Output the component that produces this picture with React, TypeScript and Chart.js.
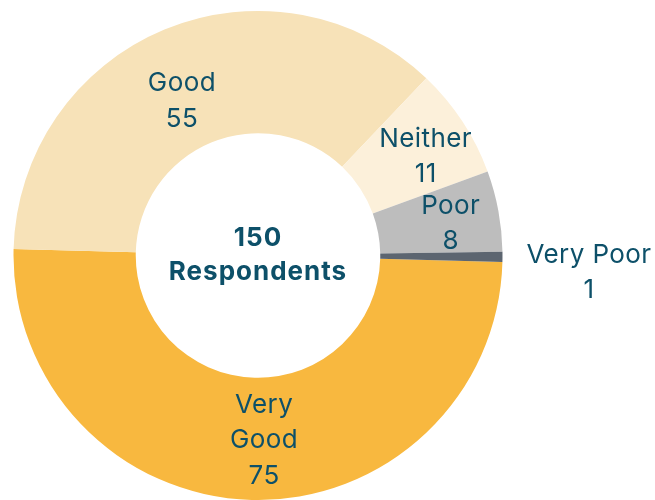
import React, { useEffect, useRef } from "react";
import { Chart, registerables } from "chart.js";

Chart.register(...registerables);

const categories = ["Very Good", "Good", "Neither", "Poor", "Very Poor"];
const labelLines = [["Very", "Good"], ["Good"], ["Neither"], ["Poor"], ["Very Poor"]];
const values = [75, 55, 11, 8, 1];
const colors = ["#F8B83F", "#F7E2B8", "#FCF0DA", "#BDBDBD", "#5C6570"];
const centerLines = ["150", "Respondents"];

const TEXT_COLOR = "#0D5069";
const FONT_FAMILY = "Inter, 'Open Sans', sans-serif";

// label placement: radial fraction of ring width (-1 = outside) and angular nudge in degrees
const labelRadial = [0.5, 0.42, 0.6, 0.6, -1];
const labelAngleShift = [-3.4, -3.5, 2.3, 0.6, 0];

const labelPlugin = {
  id: "segmentLabels",
  afterDatasetsDraw(chart: any) {
    const ctx = chart.ctx as CanvasRenderingContext2D;
    const meta = chart.getDatasetMeta(0);
    const lineH = 35.3;
    const fontSize = 26;
    const capH = fontSize * 0.727;
    ctx.save();
    ctx.fillStyle = TEXT_COLOR;
    ctx.textAlign = "center";
    ctx.textBaseline = "alphabetic";
    ctx.font = `400 ${fontSize}px ${FONT_FAMILY}`;
    (ctx as any).letterSpacing = "0.4px";
    meta.data.forEach((arc: any, i: number) => {
      const p = arc.getProps(["x", "y", "startAngle", "endAngle", "innerRadius", "outerRadius"], true);
      const mid = (p.startAngle + p.endAngle) / 2 + (labelAngleShift[i] * Math.PI) / 180;
      const lines = [...labelLines[i], String(values[i])];
      let cx: number;
      let cy: number;
      const frac = labelRadial[i];
      if (frac >= 0) {
        const r = p.innerRadius + (p.outerRadius - p.innerRadius) * frac;
        cx = p.x + Math.cos(mid) * r;
        cy = p.y + Math.sin(mid) * r;
      } else {
        const w = Math.max(...lines.map((l) => ctx.measureText(l).width));
        cx = p.x + Math.cos(mid) * p.outerRadius + 24 + w / 2;
        cy = p.y + Math.sin(mid) * p.outerRadius + 14;
      }
      const n = lines.length;
      lines.forEach((l, k) => ctx.fillText(l, cx, cy + (k - (n - 1) / 2) * lineH + capH / 2));
    });
    // center text
    const a0 = meta.data[0];
    if (a0) {
      ctx.font = `700 ${fontSize}px ${FONT_FAMILY}`;
      (ctx as any).letterSpacing = "1px";
      const cLineH = 33.7;
      const cy = a0.y - 1.8;
      const n = centerLines.length;
      centerLines.forEach((l, k) => ctx.fillText(l, a0.x, cy + (k - (n - 1) / 2) * cLineH + capH / 2));
    }
    ctx.restore();
  },
};

export default function App() {
  const ref = useRef<HTMLCanvasElement | null>(null);
  useEffect(() => {
    if (!ref.current) return;
    const chart = new Chart(ref.current, {
      type: "doughnut",
      data: {
        labels: categories,
        datasets: [
          {
            data: values,
            backgroundColor: colors,
            borderWidth: 0,
          },
        ],
      },
      options: {
        responsive: false,
        animation: false,
        rotation: 91.5,
        cutout: "50%",
        layout: { padding: { left: 13, top: 11, right: 152, bottom: -1 } },
        plugins: {
          legend: { display: false },
          tooltip: { enabled: false },
        },
      },
      plugins: [labelPlugin],
    });
    return () => chart.destroy();
  }, []);
  return (
    <div style={{ position: "fixed", left: 0, top: 0, width: 655, height: 500, background: "#fff", overflow: "hidden" }}>
      <canvas ref={ref} width={655} height={500} style={{ display: "block" }} />
    </div>
  );
}
